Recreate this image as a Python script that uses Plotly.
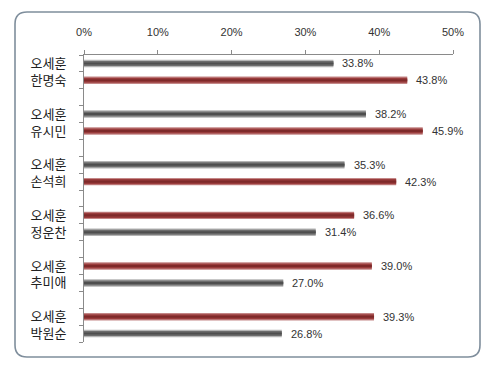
import plotly.graph_objects as go

# ---- data ----
main_name = "오세훈"
opponents = ["한명숙", "유시민", "손석희", "정운찬", "추미애", "박원순"]
oh_values = [33.8, 38.2, 35.3, 36.6, 39.0, 39.3]
opp_values = [43.8, 45.9, 42.3, 31.4, 27.0, 26.8]
x_tick_values = [0, 10, 20, 30, 40, 50]
x_tick_labels = ["0%", "10%", "20%", "30%", "40%", "50%"]

# ---- layout of slots: two bars per group, one blank slot between groups ----
ys, xs, winner = [], [], []
group_pos, group_labels = [], []
for i, (opp, a, b) in enumerate(zip(opponents, oh_values, opp_values)):
    ys += [3 * i, 3 * i + 1]
    xs += [a, b]
    winner += [a > b, b > a]
    group_pos.append(3 * i + 0.5)
    group_labels.append(f"{main_name}<br>{opp}")

n_slots = 3 * len(opponents) - 1

RED_OUT, RED_IN, RED_CORE = "#c48787", "#9a3c3c", "#7e2a2a"
GRAY_OUT, GRAY_IN, GRAY_CORE = "#b4b4b4", "#6c6c6c", "#4e4e4e"

def colors(out_r, out_g):
    return [out_r if w else out_g for w in winner]

fig = go.Figure()
layers = [
    (0.44, colors(RED_OUT, GRAY_OUT)),
    (0.30, colors(RED_IN, GRAY_IN)),
    (0.12, colors(RED_CORE, GRAY_CORE)),
]
for width, cols in layers:
    fig.add_trace(go.Bar(
        x=xs, y=ys, orientation="h", width=width,
        marker=dict(color=cols, line=dict(width=0)),
        hoverinfo="skip", showlegend=False,
    ))

# value labels
for x, y in zip(xs, ys):
    fig.add_annotation(
        x=x, y=y, text=f"{x:.1f}%", showarrow=False,
        xanchor="left", yanchor="middle", xshift=7,
        font=dict(family="Liberation Sans, Arial", size=11, color="#333333"),
    )

# page body has an 8px margin; compensate so the picture lands where intended
OFF = 8
L, R, T, B = 84 - OFF, 453 - OFF, 55 - OFF, 342 - OFF
def px(xp): return (xp - OFF - L) / (R - L)
def py(yp): return (B - (yp - OFF)) / (B - T)
x0, x1, y0, y1 = px(15), px(480), py(357), py(12)
rx, ry = 12 / (R - L), 12 / (B - T)
path = (f"M {x0+rx},{y1} L {x1-rx},{y1} Q {x1},{y1} {x1},{y1-ry} "
        f"L {x1},{y0+ry} Q {x1},{y0} {x1-rx},{y0} "
        f"L {x0+rx},{y0} Q {x0},{y0} {x0},{y0+ry} "
        f"L {x0},{y1-ry} Q {x0},{y1} {x0+rx},{y1} Z")
fig.add_shape(type="path", path=path, xref="paper", yref="paper",
              line=dict(color="#7f8e9c", width=1.6), layer="below")

fig.update_layout(
    width=500, height=371,
    margin=dict(l=L, r=500 - R, t=T, b=371 - B, autoexpand=False),
    paper_bgcolor="white", plot_bgcolor="white",
    barmode="overlay",
    xaxis=dict(
        side="top", range=[0, 50], tickvals=x_tick_values, ticktext=x_tick_labels,
        automargin=False,
        showgrid=False, zeroline=False, showline=True, linecolor="#8a8a8a", linewidth=1,
        ticks="outside", ticklen=4, tickcolor="#8a8a8a",
        tickfont=dict(family="Liberation Sans, Arial", size=11, color="#333333"),
        ticklabelstandoff=10,
    ),
    yaxis=dict(
        range=[n_slots - 0.5, -0.5], tickvals=group_pos, ticktext=group_labels,
        automargin=False,
        showgrid=False, zeroline=False, showline=True, linecolor="#8a8a8a", linewidth=1,
        ticks="", ticklabelstandoff=14,
        tickfont=dict(family="Noto Sans CJK KR", size=13, color="#222222"),
        minor=dict(tickmode="array", tickvals=[k - 0.5 for k in range(n_slots + 1)],
                   ticks="outside", ticklen=4, tickcolor="#8a8a8a", showgrid=False),
    ),
)

fig.write_html("out.html")
